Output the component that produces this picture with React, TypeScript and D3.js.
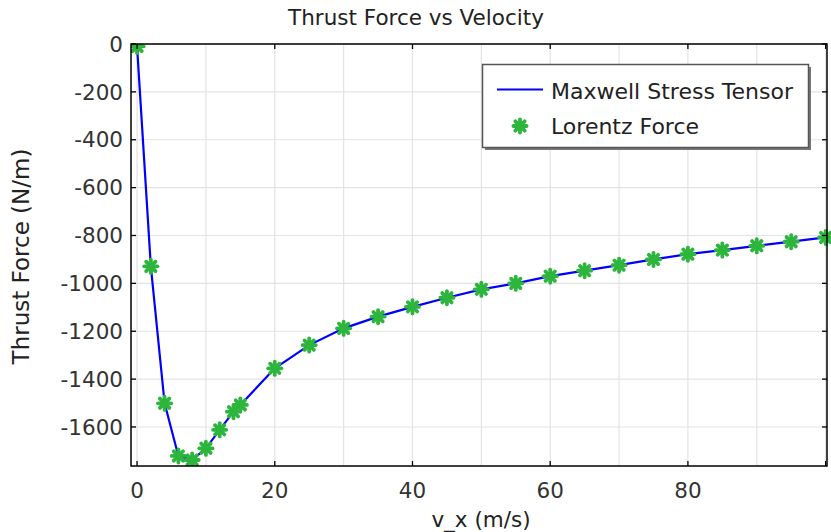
import React from "react";
import * as d3 from "d3";

const velocity = [0, 2, 4, 6, 8, 10, 12, 14, 15, 20, 25, 30, 35, 40, 45, 50, 55, 60, 65, 70, 75, 80, 85, 90, 95, 100];
const maxwellForce = [-10, -929, -1501, -1721, -1738, -1689, -1612, -1536, -1508, -1355, -1258, -1188, -1139, -1098, -1060, -1025, -1000, -970, -947, -924, -900, -878, -861, -843, -826, -808];
const lorentzForce = [-10, -929, -1501, -1721, -1738, -1689, -1612, -1536, -1508, -1355, -1258, -1188, -1139, -1098, -1060, -1025, -1000, -970, -947, -924, -900, -878, -861, -843, -826, -808];
const xTicks = [0, 20, 40, 60, 80, 100];
const xTickLabels = ["0", "20", "40", "60", "80", ""];
const xGrid = [0, 10, 20, 30, 40, 50, 60, 70, 80, 90, 100];
const yTicks = [0, -200, -400, -600, -800, -1000, -1200, -1400, -1600];

const W = 831, H = 532;
const L = 131, R = 827, T = 44, B = 466;
const FONT = "DejaVu Sans, sans-serif";
const FS = 21.5;
const GREEN = "#2db53d";

function Star({ cx, cy }: { cx: number; cy: number }) {
  const r = 6.6;
  const angles = [0, 45, 90, 135];
  return (
    <g>
      {angles.map((a) => {
        const rad = (a * Math.PI) / 180;
        const dx = r * Math.cos(rad), dy = r * Math.sin(rad);
        return (
          <line key={a} x1={cx - dx} y1={cy - dy} x2={cx + dx} y2={cy + dy}
            stroke={GREEN} strokeWidth={3.8} strokeLinecap="round" />
        );
      })}
    </g>
  );
}

export default function App() {
  const x = d3.scaleLinear().domain([-0.88, 100.2]).range([L, R]);
  const y = d3.scaleLinear().domain([0, -1763]).range([T, B]);
  const line = d3.line<number>().x((_, i) => x(velocity[i])).y((d) => y(d));
  const tick = 5;
  return (
    <svg width={W} height={H} style={{ position: "absolute", left: 0, top: 0, background: "#fff" }} fontFamily={FONT}>
      <rect x={0} y={0} width={W} height={H} fill="#fff" />
      {xGrid.map((v) => (
        <line key={"gx" + v} x1={x(v)} x2={x(v)} y1={T} y2={B} stroke="#e3e3e3" strokeWidth={1.2} />
      ))}
      {yTicks.map((v) => (
        <line key={"gy" + v} x1={L} x2={R} y1={y(v)} y2={y(v)} stroke="#e3e3e3" strokeWidth={1.2} />
      ))}
      <path d={line(maxwellForce) || ""} fill="none" stroke="#0000ff" strokeWidth={2.2} />
      <defs>
        <clipPath id="clip">
          <rect x={L} y={T} width={R - L + 10} height={B - T} />
        </clipPath>
      </defs>
      <g clipPath="url(#clip)">
        {lorentzForce.map((v, i) => (
          <Star key={i} cx={x(velocity[i])} cy={y(v)} />
        ))}
      </g>
      <rect x={L} y={T} width={R - L} height={B - T} fill="none" stroke="#000" strokeWidth={1.5} />
      {xTicks.map((v, i) => (
        <g key={"xt" + v}>
          <line x1={x(v)} x2={x(v)} y1={B} y2={B - tick} stroke="#000" strokeWidth={1.3} />
          <line x1={x(v)} x2={x(v)} y1={T} y2={T + tick} stroke="#000" strokeWidth={1.3} />
          {xTickLabels[i] && (
            <text x={x(v)} y={498} textAnchor="middle" fontSize={FS} fill="#333">{xTickLabels[i]}</text>
          )}
        </g>
      ))}
      {yTicks.map((v) => (
        <g key={"yt" + v}>
          <line x1={L} x2={L + tick} y1={y(v)} y2={y(v)} stroke="#000" strokeWidth={1.3} />
          <line x1={R} x2={R - tick} y1={y(v)} y2={y(v)} stroke="#000" strokeWidth={1.3} />
          <text x={123} y={y(v)} dy="0.36em" textAnchor="end" fontSize={FS} fill="#333">{v}</text>
        </g>
      ))}
      <text x={416} y={25} textAnchor="middle" fontSize={FS} fill="#222">Thrust Force vs Velocity</text>
      <text x={481} y={527} textAnchor="middle" fontSize={FS} fill="#222">v_x (m/s)</text>
      <text transform={`translate(28.5,${256.5}) rotate(-90)`} textAnchor="middle" fontSize={23} fill="#222">Thrust Force (N/m)</text>
      <rect x={485} y={67} width={326} height={83} fill="#777" />
      <rect x={482.5} y={64.5} width={326} height={83} fill="#fff" stroke="#555" strokeWidth={1.5} />
      <line x1={497} x2={543} y1={89.5} y2={89.5} stroke="#0000ff" strokeWidth={2.2} />
      <text x={551} y={99} fontSize={22} fill="#222">Maxwell Stress Tensor</text>
      <Star cx={520} cy={126} />
      <text x={551} y={133.5} fontSize={22} fill="#222">Lorentz Force</text>
    </svg>
  );
}
